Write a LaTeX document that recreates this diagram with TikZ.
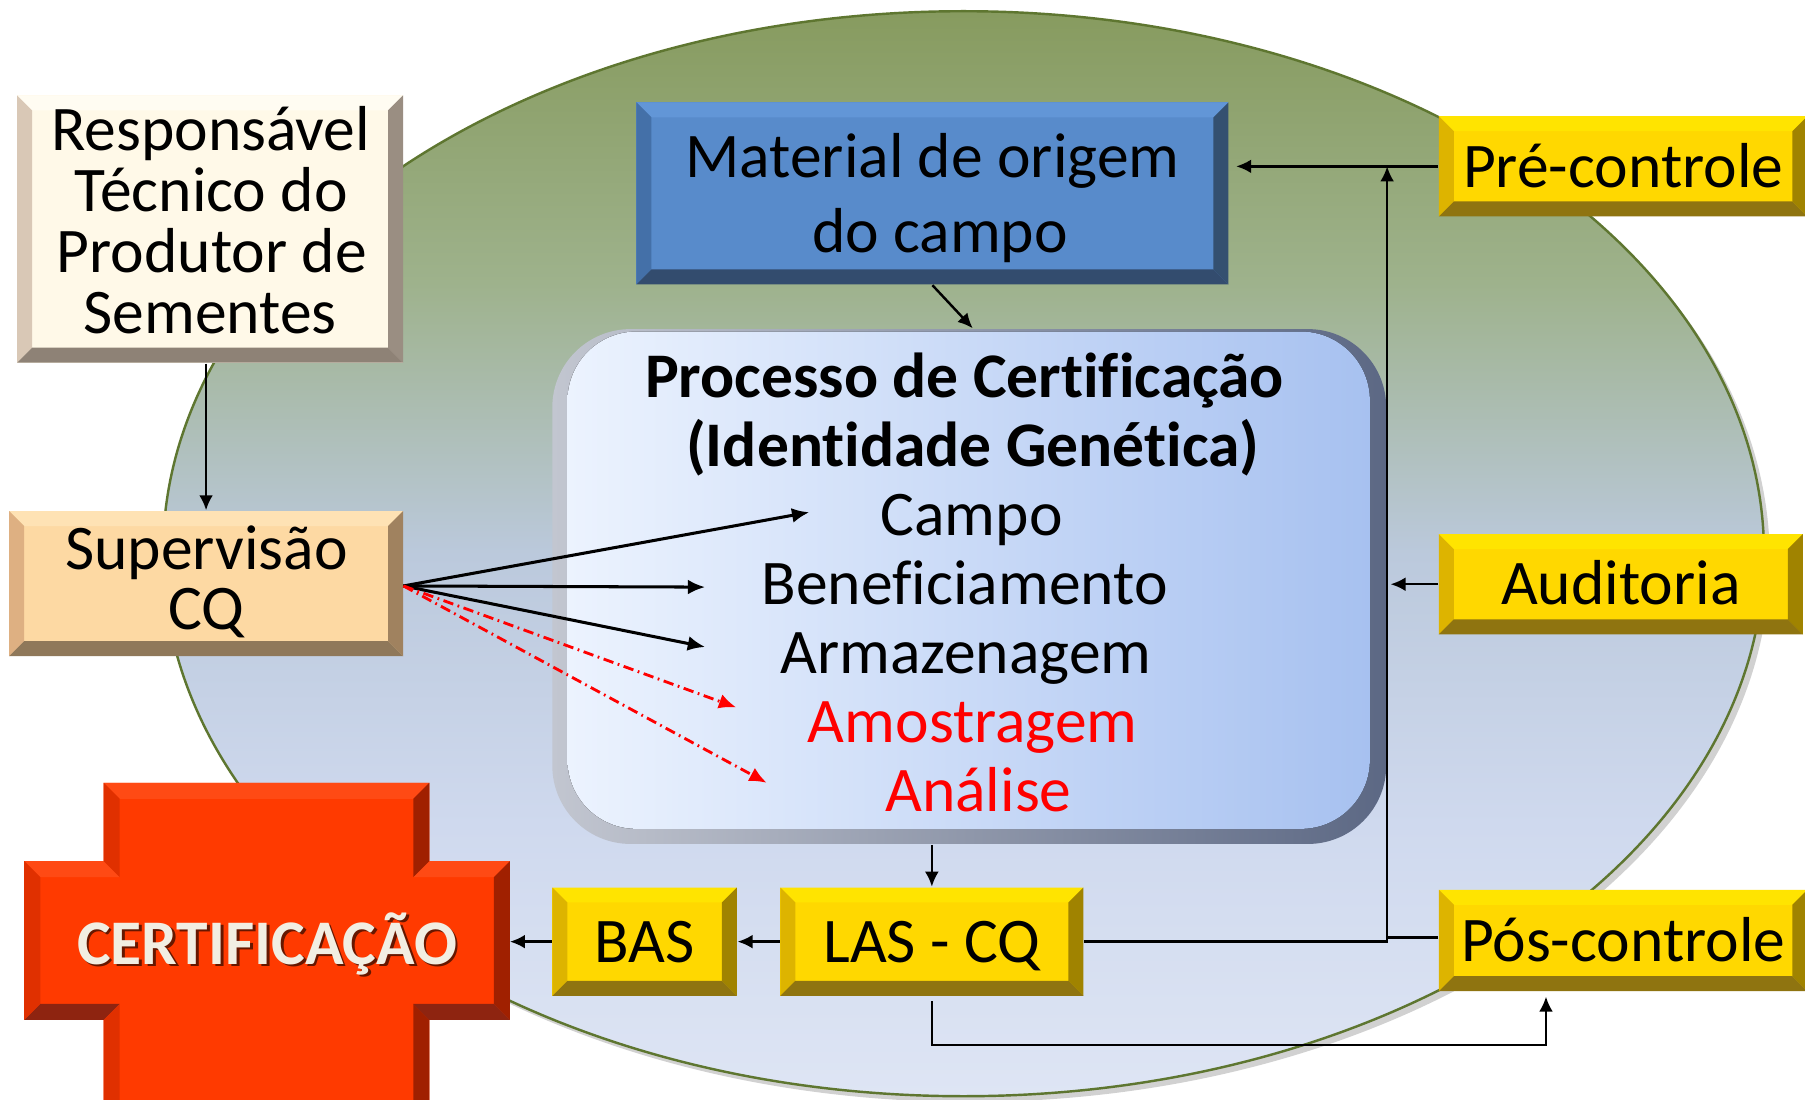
\documentclass[tikz,border=0pt]{standalone}
\usepackage{fontspec}
\setmainfont{Carlito}[Ligatures=NoCommon]
\usetikzlibrary{arrows.meta}
\newcommand\dfont{\fontsize{15.7pt}{18pt}\selectfont}
\definecolor{elTop}{HTML}{879B5F}
\definecolor{elA}{HTML}{9EB28C}
\definecolor{elMid}{HTML}{BBC9DC}
\definecolor{elB}{HTML}{CFD9EE}
\definecolor{elBot}{HTML}{DEE5F4}
\definecolor{elLine}{HTML}{5E7630}
\pgfdeclareverticalshading{ellsh}{100bp}{color(0bp)=(elBot); color(25bp)=(elBot); color(37.5bp)=(elB); color(50bp)=(elMid); color(62.5bp)=(elA); color(75bp)=(elTop); color(100bp)=(elTop)}
% cream
\definecolor{crF}{HTML}{FFF9E8}\definecolor{crT}{HTML}{FFFCF2}\definecolor{crL}{HTML}{D9C8B6}\definecolor{crR}{HTML}{9A8E82}\definecolor{crB}{HTML}{8E8276}
% peach
\definecolor{peF}{HTML}{FDD9A3}\definecolor{peT}{HTML}{FEE2B4}\definecolor{peL}{HTML}{DEB082}\definecolor{peR}{HTML}{A0825F}\definecolor{peB}{HTML}{8F785A}
% blue
\definecolor{blF}{HTML}{588BCB}\definecolor{blT}{HTML}{6296D7}\definecolor{blL}{HTML}{4470A8}\definecolor{blR}{HTML}{345070}\definecolor{blB}{HTML}{334C6E}
% yellow
\definecolor{yeF}{HTML}{FFD800}\definecolor{yeT}{HTML}{FFE400}\definecolor{yeL}{HTML}{DDB400}\definecolor{yeR}{HTML}{A08300}\definecolor{yeB}{HTML}{8F7410}
% red cross
\definecolor{rcF}{HTML}{FF3A00}\definecolor{rcT}{HTML}{FF4A14}\definecolor{rcL}{HTML}{E03000}\definecolor{rcR}{HTML}{A02000}\definecolor{rcB}{HTML}{8E2410}
\definecolor{certTxt}{HTML}{F2EEE2}
% process box
\definecolor{pOutL}{HTML}{C2C6D0}\definecolor{pOutR}{HTML}{5C6884}
\definecolor{pInL}{HTML}{ECF3FE}\definecolor{pInR}{HTML}{A7C1F0}
\def\bw{0.13cm}
\tikzset{
  bevelbox/.style n args={5}{fill=#1, draw=none, inner sep=0pt, path picture={
    \fill[#2] (path picture bounding box.north west) -- (path picture bounding box.north east)
      -- ([xshift=-\bw,yshift=-\bw]path picture bounding box.north east) -- ([xshift=\bw,yshift=-\bw]path picture bounding box.north west) -- cycle;
    \fill[#3] (path picture bounding box.north west) -- (path picture bounding box.south west)
      -- ([xshift=\bw,yshift=\bw]path picture bounding box.south west) -- ([xshift=\bw,yshift=-\bw]path picture bounding box.north west) -- cycle;
    \fill[#4] (path picture bounding box.north east) -- (path picture bounding box.south east)
      -- ([xshift=-\bw,yshift=\bw]path picture bounding box.south east) -- ([xshift=-\bw,yshift=-\bw]path picture bounding box.north east) -- cycle;
    \fill[#5] (path picture bounding box.south west) -- (path picture bounding box.south east)
      -- ([xshift=-\bw,yshift=\bw]path picture bounding box.south east) -- ([xshift=\bw,yshift=\bw]path picture bounding box.south west) -- cycle;
  }},
  creambox/.style={bevelbox={crF}{crT}{crL}{crR}{crB}},
  peachbox/.style={bevelbox={peF}{peT}{peL}{peR}{peB}},
  bluebox/.style={bevelbox={blF}{blT}{blL}{blR}{blB}},
  ybox/.style={bevelbox={yeF}{yeT}{yeL}{yeR}{yeB}, text height=0.36cm, text depth=0pt},
  line/.style={line width=0.6pt, black},
  arr/.style={line, -{Latex[length=0.13cm,width=0.12cm]}},
  supar/.style={line width=0.75pt, black, -{Latex[length=0.15cm,width=0.13cm]}},
  redar/.style={line width=0.7pt, red, dash pattern=on 0.09cm off 0.04cm on 0.015cm off 0.04cm, -{Latex[length=0.15cm,width=0.13cm]}},
  txt/.style={anchor=base, font=\dfont},
}
\begin{document}
\begin{tikzpicture}[x=0.01cm,y=-0.01cm, every node/.style={font=\dfont, inner sep=0pt}]
\useasboundingbox (0,0) rectangle (1568,954.7);
\fill[white] (0,0) rectangle (1568,954.7);
\clip (0,0) rectangle (1568,954.7);

% ellipse with shadow
\fill[black, opacity=0.18] (842,486) ellipse [x radius=6.95cm, y radius=4.71cm];
\path[shading=ellsh, draw=elLine, line width=0.6pt] (837,481) ellipse [x radius=6.95cm, y radius=4.71cm];

% boxes
\node[creambox, minimum width=3.35cm, minimum height=2.32cm] (resp) at (182.5,199) {};
\node[txt] (resp1) at (183,131) {Responsável};
\node[txt] (resp2) at (183.5,184) {Técnico do};
\node[txt] (resp3) at (184,237) {Produtor de};
\node[txt] (resp4) at (182.5,290) {Sementes};

\node[peachbox, minimum width=3.42cm, minimum height=1.26cm] (sup) at (179,507) {};
\node[txt] (sup1) at (179.5,495) {Supervisão};
\node[txt] (sup2) at (179,547) {CQ};

\node[bluebox, minimum width=5.14cm, minimum height=1.58cm] (mat) at (810,168) {};
\node[txt] (mat1) at (810,154) {Material de origem};
\node[txt] (mat2) at (816.5,219) {do campo};

% process box
\node[left color=pOutL, right color=pOutR, rounded corners=0.68cm, minimum width=7.24cm, minimum height=4.47cm] (proc) at (842,509.5) {};
\fill[left color=pInL, right color=pInR, rounded corners=0.6cm] (493,288) rectangle (1190,720);
\node[txt, font=\dfont\bfseries] (p1) at (838,345) {Processo de Certificação};
\node[txt, font=\dfont\bfseries] (p2) at (845,405) {(Identidade Genética)};
\node[txt] (p3) at (844,465) {Campo};
\node[txt] (p4) at (838,525) {Beneficiamento};
\node[txt] (p5) at (839,585) {Armazenagem};
\node[txt, text=red] (p6) at (845,645) {Amostragem};
\node[txt, text=red] (p7) at (850,705) {Análise};

% yellow boxes
\node[ybox, minimum width=3.2cm, minimum height=0.87cm] (pre) at (1410,144.5) {Pré-controle};
\node[ybox, minimum width=3.16cm, minimum height=0.87cm] (aud) at (1408,507.5) {Auditoria};
\node[ybox, minimum width=3.2cm, minimum height=0.88cm] (pos) at (1410,817) {Pós-controle};
\node[ybox, minimum width=1.6cm, minimum height=0.94cm] (bas) at (560,818) {BAS};
\node[ybox, minimum width=2.63cm, minimum height=0.94cm] (las) at (809.5,818) {LAS - CQ};

% cross
\fill[rcF] (90,680) -- (373,680) -- (373,748) -- (443,748) -- (443,886) -- (373,886) -- (373,960) -- (90,960) -- (90,886) -- (21,886) -- (21,748) -- (90,748) -- cycle;
\fill[rcT] (90,680) -- (373,680) -- (359,694) -- (104,694) -- cycle;
\fill[rcT] (373,748) -- (443,748) -- (429,762) -- (359,762) -- cycle;
\fill[rcT] (21,748) -- (90,748) -- (104,762) -- (35,762) -- cycle;
\fill[rcR] (373,680) -- (373,748) -- (359,762) -- (359,694) -- cycle;
\fill[rcR] (443,748) -- (443,886) -- (429,872) -- (429,762) -- cycle;
\fill[rcR] (373,886) -- (373,960) -- (359,974) -- (359,872) -- cycle;
\fill[rcB] (443,886) -- (373,886) -- (359,872) -- (429,872) -- cycle;
\fill[rcB] (90,886) -- (21,886) -- (35,872) -- (104,872) -- cycle;
\fill[rcL] (90,960) -- (90,886) -- (104,872) -- (104,974) -- cycle;
\fill[rcL] (21,886) -- (21,748) -- (35,762) -- (35,872) -- cycle;
\fill[rcL] (90,748) -- (90,680) -- (104,694) -- (104,762) -- cycle;
\node[txt, font=\dfont\bfseries, text=black, opacity=0.6] (certsh) at (234.5,840) {CERTIFICAÇÃO};
\node[txt, font=\dfont\bfseries, text=certTxt] (cert) at (232,837.5) {CERTIFICAÇÃO};
\coordinate (certR) at (443,818);

% connector coordinates
\coordinate (vt) at (1205,144.5);
\coordinate (pb) at (1343,908);
\coordinate (s0) at (350.5,509);
\coordinate (t1) at (703,445);
\coordinate (t2) at (612.5,510);
\coordinate (t3) at (612.5,562);
\coordinate (t4) at (639.5,614.5);
\coordinate (t5) at (666,680);

% connectors
\draw[arr] (resp.south -| sup.north) -- (sup.north);
\draw[arr] (mat.south) -- ([xshift=0.03cm]proc.north);
\draw[arr, shorten >=0.06cm] (pre.west) -- (pre.west -| mat.east);
\draw[arr] (las.east) -- (las.east -| vt) -- (vt);
\draw[arr, shorten >=0.03cm] (aud.west) -- (aud.west -| vt);
\draw[line] ([yshift=0.025cm]pos.west) -- ([yshift=0.025cm]pos.west -| vt);
\draw[arr] (proc.south -| las.north) -- (las.north);
\draw[arr] (las.west) -- (bas.east);
\draw[arr] (bas.west) -- (certR);
\draw[arr, shorten >=0.04cm] ([yshift=-0.04cm]las.south) -- (las.south |- pb) -- (pb) -- (pb |- pos.south);

\draw[supar] (s0) -- (t1);
\draw[supar] (s0) -- (t2);
\draw[supar] (s0) -- (t3);
\draw[redar] (s0) -- (t4);
\draw[redar] (s0) -- (t5);
\end{tikzpicture}
\end{document}
